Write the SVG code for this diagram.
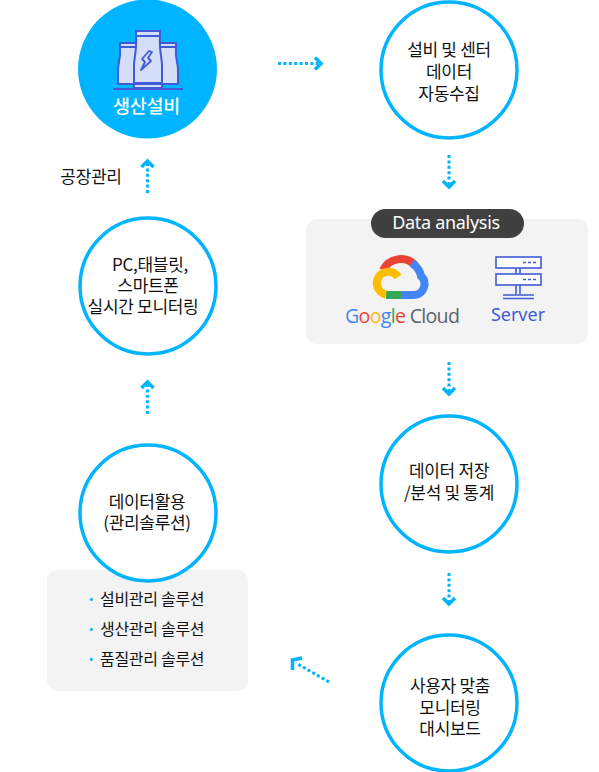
<svg xmlns="http://www.w3.org/2000/svg" width="599" height="772" viewBox="0 0 599 772">
<style>
text{font-family:"Noto Sans CJK KR","Noto Sans",sans-serif;font-size:17px;fill:#111;text-anchor:middle;letter-spacing:-.3px}
.c{fill:#fff;stroke:#00b4ff;stroke-width:3.5}
.p{fill:#f3f3f3}
.d{fill:none;stroke:#00b4ff;stroke-width:3;stroke-dasharray:3 2.4}
.h{fill:none;stroke:#00b4ff;stroke-width:3.500}
.i{fill:#d5def8;stroke:#3f5bd8;stroke-width:2}
.s{fill:none;stroke:#3f5bd8;stroke-width:1.6}
.b{fill:#00b4ff;font-size:16px;font-weight:700}
.l{text-anchor:start;font-size:16px}
</style>
<g id="panel-analysis">
<rect class="p" x="306" y="219" width="282" height="125" rx="11"/>
<rect x="371" y="209" width="153" height="29" rx="14.5" fill="#404040"/>
<text x="446" y="229" style="font-size:18px;fill:#fff;font-family:'Noto Sans',sans-serif">Data analysis</text>
</g>
<g id="google-cloud">
<path d="M383 270A20 20 0 0 1 415 265" fill="none" stroke="#ea4335" stroke-width="8"/>
<path d="M412 263Q420 269 421 276A11 11 0 0 1 414 295H402" fill="none" stroke="#4285f4" stroke-width="8"/>
<path d="M402 295H386" fill="none" stroke="#34a853" stroke-width="8"/>
<path d="M398 277A11.500 11.500 0 1 0 386 294.500" fill="none" stroke="#fbbc05" stroke-width="8"/>
<text x="345" y="323" class="l" style="font-size:19.600px;font-family:'Open Sans',sans-serif;letter-spacing:-.7px;fill:#5f6368"><tspan style="fill:#4285f4">G</tspan><tspan style="fill:#ea4335">o</tspan><tspan style="fill:#fbbc05">o</tspan><tspan style="fill:#4285f4">g</tspan><tspan style="fill:#34a853">l</tspan><tspan style="fill:#ea4335">e</tspan> Cloud</text>
</g>
<g id="server">
<rect x="496" y="257" width="45" height="11" fill="#fff" stroke="#3f5bd8" stroke-width="1.600"/>
<rect x="496" y="274" width="45" height="11" fill="#fff" stroke="#3f5bd8" stroke-width="1.600"/>
<path class="s" d="M523 262.500h3m2 0h3m2 0h3M523 279.500h3m2 0h3m2 0h3M516 268v6M520 268v6M516 285v9M520 285v9M503 295h31M503 298.500h31"/>
<text x="518" y="321" style="font-size:18px;font-family:'Noto Sans',sans-serif;fill:#3f5bd8;letter-spacing:0">Server</text>
</g>
<g id="panel-solutions">
<rect class="p" x="47" y="570" width="201" height="121" rx="11"/>
<text x="91" y="605" class="b">·</text>
<text x="91" y="635" class="b">·</text>
<text x="91" y="665" class="b">·</text>
<text class="l"><tspan x="100" y="605">설비관리 솔루션</tspan><tspan x="100" y="635">생산관리 솔루션</tspan><tspan x="100" y="665">품질관리 솔루션</tspan></text>
</g>
<g id="node-production">
<circle cx="147.500" cy="69" r="69.500" fill="#00b4ff"/>
<path class="i" d="M120 43h16v4h-16zM120 47h16v37h-18v-14c0 -8 3 -10 2 -23zM160 43h16v4h-16zM160 47h16c-1 13 2 15 2 23v14h-18z"/>
<path class="i" d="M136 31h24v5h-24zM136 36h24c-1 14 2 22 2 30v22h-28v-22c0 -8 3 -16 2 -30z"/>
<path d="M118 84h60M134 83h28" fill="none" stroke="#3f5bd8" stroke-width="1.800"/>
<path d="M113 89h70" stroke="#3f5bd8" stroke-width="2"/>
<path d="M149 51l-7 8l3 3l-4 8l10 -9l-3 -3l4 -6z" fill="none" stroke="#3f5bd8" stroke-width="1.800" stroke-linejoin="round"/>
<text x="146.500" y="113" style="font-size:18.500px;font-weight:500;fill:#fff">생산설비</text>
</g>
<g id="node-collect">
<circle class="c" cx="449" cy="70" r="68"/>
<text><tspan x="449" y="56">설비 및 센터</tspan><tspan x="449" y="78">데이터</tspan><tspan x="449" y="100">자동수집</tspan></text>
</g>
<g id="node-monitoring">
<circle class="c" cx="148" cy="286" r="68"/>
<text><tspan x="150" y="271">PC,태블릿,</tspan><tspan x="148" y="292">스마트폰</tspan><tspan x="143" y="313">실시간 모니터링</tspan></text>
</g>
<g id="node-usage">
<circle class="c" cx="148" cy="513" r="68"/>
<text><tspan x="147" y="508">데이터활용</tspan><tspan x="147" y="529">(관리솔루션)</tspan></text>
</g>
<g id="node-storage">
<circle class="c" cx="449" cy="484" r="68"/>
<text><tspan x="449" y="477">데이터 저장</tspan><tspan x="449" y="499">/분석 및 통계</tspan></text>
</g>
<g id="node-dashboard">
<circle class="c" cx="449" cy="703" r="68"/>
<text><tspan x="450" y="692">사용자 맞춤</tspan><tspan x="450" y="714">모니터링</tspan><tspan x="450" y="735">대시보드</tspan></text>
</g>
<text id="label-factory" x="91" y="183">공장관리</text>
<g id="connectors">
<path class="d" d="M278 63.500H318"/><path class="h" d="M315 57.500l6 6l-6 6"/>
<path class="d" d="M449 155V185"/><path class="h" d="M443 181l6 6l6 -6"/>
<path class="d" d="M449 362V392"/><path class="h" d="M443 388l6 6l6 -6"/>
<path class="d" d="M449 573V603"/><path class="h" d="M443 598l6 6l6 -6"/>
<path class="d" d="M329 682L296 663"/><path class="h" d="M292.500 670L292.500 660L302 658"/>
<path class="d" d="M147.500 193V164"/><path class="h" d="M141.500 167l6 -6l6 6"/>
<path class="d" d="M147.500 414V385"/><path class="h" d="M141.500 388l6 -6l6 6"/>
</g>
</svg>
